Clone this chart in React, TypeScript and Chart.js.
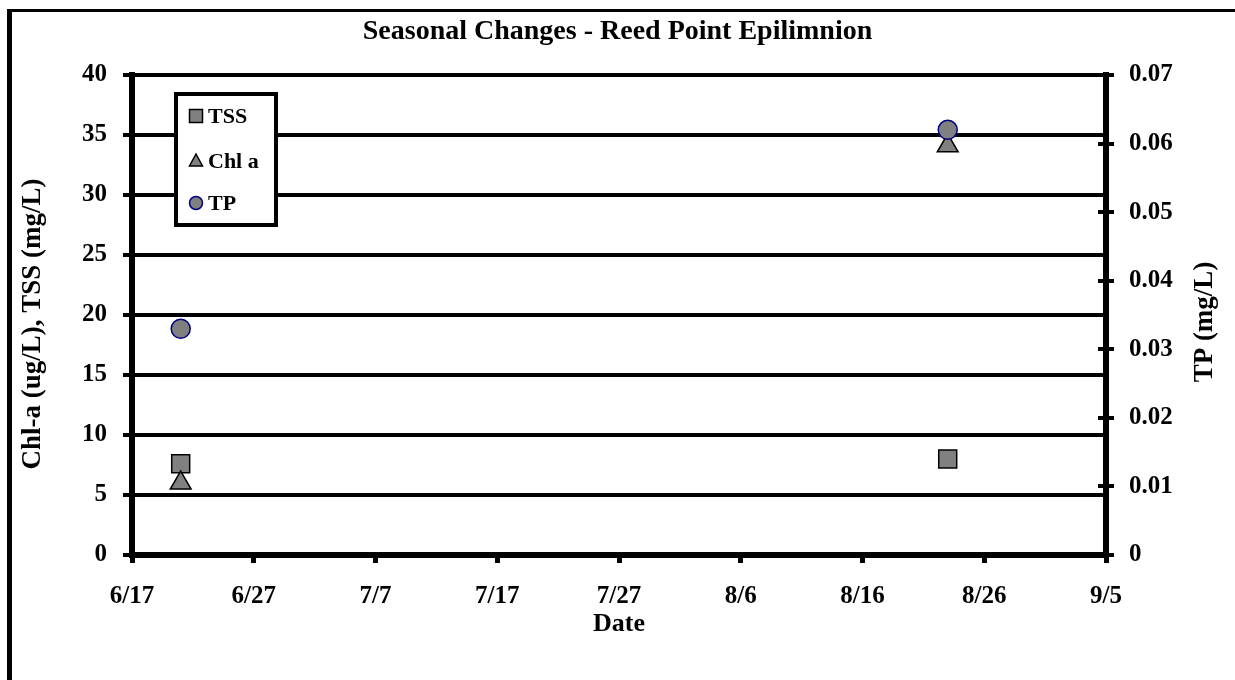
import React, { useEffect, useRef } from 'react';
import { Chart, registerables } from 'chart.js';

Chart.register(...registerables);

// ---- data ----
const xTickLabels = ['6/17', '6/27', '7/7', '7/17', '7/27', '8/6', '8/16', '8/26', '9/5'];
const sampleDays = [4, 67]; // days after 6/17 -> 6/21, 8/23
const tssValues = [7.6, 8.0];
const chlValues = [6.0, 34.1];
const tpValues = [0.033, 0.062];
const seriesLabels = ['TSS', 'Chl a', 'TP'];
const chartTitle = 'Seasonal Changes - Reed Point Epilimnion';
const leftAxisTitle = 'Chl-a (ug/L), TSS (mg/L)';
const rightAxisTitle = 'TP (mg/L)';
const xAxisTitle = 'Date';

const FONT = "'Liberation Serif', 'Times New Roman', Times, serif";
const GRAY = '#808080';
const NAVY = '#000080';

function drawVerticalTitle(ctx: CanvasRenderingContext2D, text: string, x: number, y: number) {
  ctx.save();
  ctx.fillStyle = '#000';
  ctx.font = `bold 27px ${FONT}`;
  ctx.translate(x, y);
  ctx.rotate(-Math.PI / 2);
  ctx.textAlign = 'center';
  ctx.textBaseline = 'middle';
  ctx.fillText(text, 0, 0);
  ctx.restore();
}

const decorPlugin = {
  id: 'decor',
  beforeDraw(chart: any) {
    const ctx = chart.ctx;
    ctx.save();
    ctx.fillStyle = '#fff';
    ctx.fillRect(0, 0, chart.width, chart.height);
    ctx.fillStyle = '#000';
    ctx.fillRect(7, 9, 5, chart.height);
    ctx.fillRect(7, 9, chart.width, 3);
    ctx.restore();
  },
  afterDraw(chart: any) {
    const ctx = chart.ctx;
    const ca = chart.chartArea;
    const y2 = chart.scales.y2;
    ctx.save();
    // inward tick stubs on right axis
    ctx.strokeStyle = '#000';
    ctx.lineWidth = 4;
    y2.ticks.forEach((t: any) => {
      const y = Math.round(y2.getPixelForValue(t.value));
      ctx.beginPath();
      ctx.moveTo(ca.right - 8, y);
      ctx.lineTo(ca.right, y);
      ctx.stroke();
    });
    ctx.restore();

    // axis titles (bottom-to-top)
    const midY = (ca.top + ca.bottom) / 2;
    drawVerticalTitle(ctx, leftAxisTitle, 33, midY + 9);
    drawVerticalTitle(ctx, rightAxisTitle, 1205, midY + 7);

    ctx.save();
    // legend box
    const bx = 176, by = 94, bw = 100, bh = 131;
    ctx.fillStyle = '#fff';
    ctx.fillRect(bx, by, bw, bh);
    ctx.lineWidth = 4;
    ctx.strokeStyle = '#000';
    ctx.strokeRect(bx, by, bw, bh);

    const mx = 196;
    const rows = [116, 161, 203];
    ctx.lineWidth = 1.5;
    // square
    ctx.fillStyle = GRAY;
    ctx.strokeStyle = '#000';
    ctx.beginPath();
    ctx.rect(mx - 6.5, rows[0] - 6.5, 13, 13);
    ctx.fill();
    ctx.stroke();
    // triangle
    ctx.beginPath();
    ctx.moveTo(mx, rows[1] - 7);
    ctx.lineTo(mx + 6.5, rows[1] + 5);
    ctx.lineTo(mx - 6.5, rows[1] + 5);
    ctx.closePath();
    ctx.fill();
    ctx.stroke();
    // circle
    ctx.strokeStyle = NAVY;
    ctx.beginPath();
    ctx.arc(mx, rows[2], 6.5, 0, Math.PI * 2);
    ctx.fill();
    ctx.stroke();

    ctx.fillStyle = '#000';
    ctx.font = `bold 22px ${FONT}`;
    ctx.textAlign = 'left';
    ctx.textBaseline = 'middle';
    seriesLabels.forEach((lab, i) => {
      ctx.fillText(lab, 208, rows[i] + 1);
    });
    ctx.restore();
  },
};

export default function App() {
  const canvasRef = useRef<HTMLCanvasElement | null>(null);

  useEffect(() => {
    if (!canvasRef.current) return;
    Chart.defaults.color = '#000';
    const tickFont = { family: FONT, size: 25, weight: 'bold' as const };
    const titleFont = { family: FONT, size: 26, weight: 'bold' as const };

    const chart = new Chart(canvasRef.current, {
      type: 'scatter',
      data: {
        datasets: [
          {
            label: seriesLabels[0],
            data: sampleDays.map((d, i) => ({ x: d, y: tssValues[i] })),
            yAxisID: 'y',
            pointStyle: 'rect',
            pointRadius: 12.7,
            backgroundColor: GRAY,
            borderColor: '#000',
            borderWidth: 1.5,
            order: 2,
          },
          {
            label: seriesLabels[1],
            data: sampleDays.map((d, i) => ({ x: d, y: chlValues[i] })),
            yAxisID: 'y',
            pointStyle: 'triangle',
            pointRadius: 12,
            backgroundColor: GRAY,
            borderColor: '#000',
            borderWidth: 1.5,
            order: 1,
          },
          {
            label: seriesLabels[2],
            data: sampleDays.map((d, i) => ({ x: d, y: tpValues[i] })),
            yAxisID: 'y2',
            pointStyle: 'circle',
            pointRadius: 9.5,
            backgroundColor: GRAY,
            borderColor: NAVY,
            borderWidth: 1.5,
            order: 0,
          },
        ],
      },
      options: {
        responsive: false,
        animation: false,
        events: [],
        layout: { padding: 0 },
        plugins: {
          legend: { display: false },
          tooltip: { enabled: false },
          title: {
            display: true,
            text: chartTitle,
            color: '#000',
            font: { family: FONT, size: 28, weight: 'bold' },
            padding: { top: 15, bottom: 26.4 },
          },
        },
        scales: {
          x: {
            type: 'linear',
            position: 'bottom',
            min: 0,
            max: 80,
            afterFit: (s: any) => { s.height = 125; },
            afterBuildTicks: (s: any) => {
              s.ticks = xTickLabels.map((_, i) => ({ value: i * 10 }));
            },
            ticks: {
              font: tickFont,
              color: '#000',
              padding: 19,
              maxRotation: 0,
              autoSkip: false,
              callback: (v: any) => xTickLabels[Math.round(Number(v) / 10)] ?? '',
            },
            grid: {
              drawOnChartArea: false,
              color: '#000',
              lineWidth: 5,
              tickLength: 8,
            },
            border: { display: true, color: '#000', width: 6 },
            title: {
              display: true,
              text: xAxisTitle,
              font: titleFont,
              color: '#000',
              padding: { bottom: 40 },
            },
          },
          y: {
            type: 'linear',
            position: 'left',
            min: 0,
            max: 40,
            afterFit: (s: any) => { s.width = 132; },
            ticks: { stepSize: 5, font: tickFont, color: '#000', padding: 16 },
            grid: { color: '#000', lineWidth: 4, tickLength: 9 },
            border: { display: true, color: '#000', width: 6 },
            title: { display: false },
          },
          y2: {
            type: 'linear',
            position: 'right',
            min: 0,
            max: 0.07,
            afterFit: (s: any) => { s.width = 129; },
            ticks: {
              stepSize: 0.01,
              font: tickFont,
              color: '#000',
              padding: 15,
              callback: (v: any) => (Number(v) === 0 ? '0' : Number(v).toFixed(2)),
            },
            grid: { drawOnChartArea: false, color: '#000', lineWidth: 4, tickLength: 8 },
            border: { display: true, color: '#000', width: 6 },
          },
        },
      },
      plugins: [decorPlugin],
    } as any);

    return () => chart.destroy();
  }, []);

  return (
    <div style={{ position: 'fixed', left: 0, top: 0, width: 1235, height: 680, overflow: 'hidden', background: '#fff' }}>
      <canvas ref={canvasRef} width={1235} height={680} style={{ display: 'block', width: 1235, height: 680 }} />
    </div>
  );
}
